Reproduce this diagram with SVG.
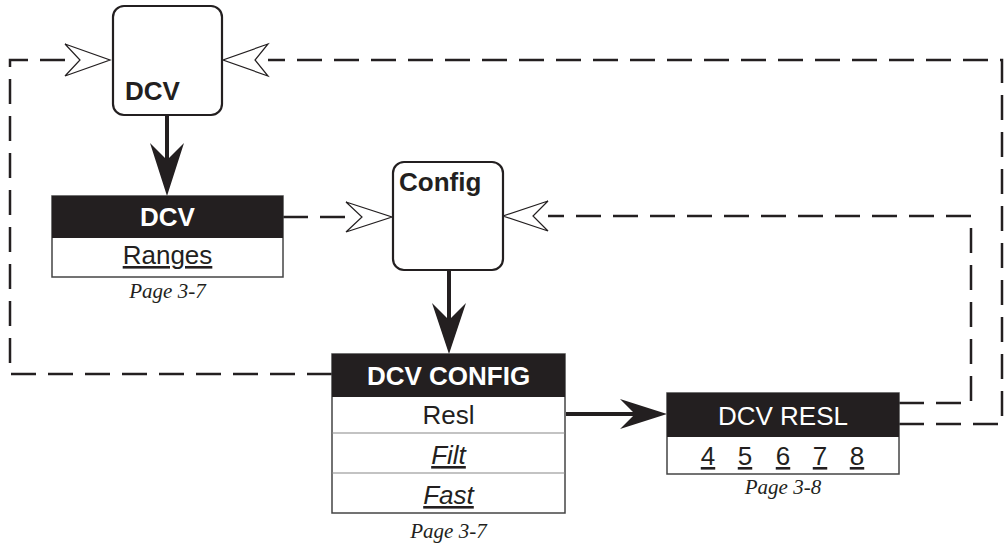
<svg xmlns="http://www.w3.org/2000/svg" width="1007" height="547" viewBox="0 0 1007 547">
<style>
.dash{fill:none;stroke:#231f20;stroke-width:2.5;stroke-dasharray:25 12}
.solid{fill:none;stroke:#231f20;stroke-width:4}
.chev{fill:#fff;stroke:#231f20;stroke-width:1.2}
.head{fill:#231f20}
.rbox{fill:#fff;stroke:#231f20;stroke-width:2.2}
.hdr{fill:#231f20}
.body{fill:#fff;stroke:#444;stroke-width:1.5}
.sep{stroke:#888;stroke-width:1.2}
.b{font-family:"Liberation Sans",Arial,sans-serif;font-weight:bold;font-size:26px}
.r{font-family:"Liberation Sans",Arial,sans-serif;font-size:26px;fill:#231f20}
.pg{font-family:"Liberation Serif","Times New Roman",serif;font-style:italic;font-size:21px;fill:#231f20}
</style>
<g id="connectors">
<polyline class="dash" points="332,374 10,374 10,60 66,60"/>
<polyline class="dash" points="899,424 1002,424 1002,60 268,60"/>
<polyline class="dash" points="899,403 971,403 971,216 548,216"/>
<polyline class="dash" points="283,217 346,217"/>
<polygon class="chev" points="65,44 110,60 65,76 80,60"/>
<polygon class="chev" points="268,44 223,60 268,76 255,60"/>
<polygon class="chev" points="346,202 392,217 346,232 362,217"/>
<polygon class="chev" points="548,201 503,216 548,231 533,216"/>
<line class="solid" x1="167" y1="115" x2="167" y2="165"/>
<polygon class="head" points="150,143 167,160 184,143 167,196"/>
<line class="solid" x1="449" y1="270" x2="449" y2="325"/>
<polygon class="head" points="432,303 449,320 466,303 449,354"/>
<line class="solid" x1="566" y1="414" x2="635" y2="414"/>
<polygon class="head" points="620,399 667,414 620,429 635,414"/>
</g>
<g id="node-dcv-key">
<rect class="rbox" x="113" y="6" width="109" height="109" rx="11"/>
<text class="b" x="125" y="100" fill="#231f20">DCV</text>
</g>
<g id="node-config-key">
<rect class="rbox" x="393" y="162" width="110" height="108" rx="11"/>
<text class="b" x="399" y="191" fill="#231f20">Config</text>
</g>
<g id="node-dcv-menu">
<rect class="body" x="52" y="196" width="231" height="81"/>
<rect class="hdr" x="52" y="196" width="231" height="42"/>
<text class="b" x="167.500" y="226" fill="#fff" text-anchor="middle">DCV</text>
<text class="r" x="167.500" y="264" text-anchor="middle" text-decoration="underline">Ranges</text>
<text class="pg" x="167.500" y="298" text-anchor="middle">Page 3-7</text>
</g>
<g id="node-dcv-config">
<rect class="body" x="332" y="354" width="233" height="159"/>
<rect class="hdr" x="332" y="354" width="233" height="43"/>
<line class="sep" x1="332" y1="433" x2="565" y2="433"/>
<line class="sep" x1="332" y1="473" x2="565" y2="473"/>
<text class="b" x="448.500" y="385" fill="#fff" text-anchor="middle">DCV CONFIG</text>
<text class="r" x="448.500" y="424" text-anchor="middle">Resl</text>
<text class="r" x="448.500" y="464" text-anchor="middle" font-style="italic" text-decoration="underline">Filt</text>
<text class="r" x="448.500" y="504" text-anchor="middle" font-style="italic" text-decoration="underline">Fast</text>
<text class="pg" x="448.500" y="538" text-anchor="middle">Page 3-7</text>
</g>
<g id="node-dcv-resl">
<rect class="body" x="667" y="393" width="232" height="81"/>
<rect class="hdr" x="667" y="393" width="232" height="44"/>
<text class="r" x="783" y="425" text-anchor="middle" style="fill:#fff">DCV RESL</text>
<text class="r" x="708" y="465" text-anchor="middle" text-decoration="underline">4</text>
<text class="r" x="745" y="465" text-anchor="middle" text-decoration="underline">5</text>
<text class="r" x="783" y="465" text-anchor="middle" text-decoration="underline">6</text>
<text class="r" x="820" y="465" text-anchor="middle" text-decoration="underline">7</text>
<text class="r" x="857" y="465" text-anchor="middle" text-decoration="underline">8</text>
<text class="pg" x="783" y="494" text-anchor="middle">Page 3-8</text>
</g>
</svg>
